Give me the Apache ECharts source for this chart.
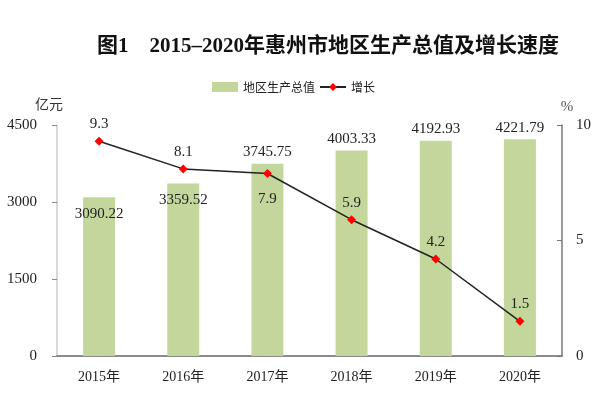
<!DOCTYPE html>
<html><head><meta charset="utf-8">
<script src="https://cdn.jsdelivr.net/npm/echarts@6/dist/echarts.min.js"></script>
<style>html,body{margin:0;padding:0;background:#fff}#c{width:600px;height:396px}</style>
</head><body><div id="c"></div>
<script>
var categories = ['2015年','2016年','2017年','2018年','2019年','2020年'];
var gdpValues = [3090.22, 3359.52, 3745.75, 4003.33, 4192.93, 4221.79];
var growthValues = [9.3, 8.1, 7.9, 5.9, 4.2, 1.5];
var gdpLabelPos = ['insideTop','insideTop','top','top','top','top'];
var growthLabelPos = ['top','top','bottom','top','top','top'];
var serif = 'Liberation Serif, Noto Sans CJK SC';

var chart = echarts.init(document.getElementById('c'), null, {renderer:'canvas'});
chart.setOption({
  animation:false,
  title:{text:'图1　2015–2020年惠州市地区生产总值及增长速度', left:92, top:31,
    textStyle:{fontFamily:serif, fontWeight:'bold', fontSize:21, color:'#111'}},
  legend:{top:76, left:207, itemGap:4, itemWidth:26, itemHeight:10,
    textStyle:{fontFamily:'Noto Sans CJK SC', fontSize:12, color:'#222'},
    data:[{name:'地区生产总值', icon:'rect', itemStyle:{color:'#c3d69b'}}, {name:'增长'}]},
  grid:{left:57, right:38, top:125, bottom:40},
  xAxis:{type:'category', data:categories,
    axisLine:{lineStyle:{color:'#666', width:1.5}},
    axisTick:{inside:true, length:4, lineStyle:{color:'#666'}},
    axisLabel:{fontFamily:serif, fontSize:14, color:'#222', margin:14}},
  yAxis:[
    {type:'value', min:0, max:4500, interval:1500, name:'亿元', nameGap:14,
     nameTextStyle:{fontFamily:'Noto Sans CJK SC', fontSize:14, color:'#333', align:'right', padding:[0,-6,0,0]},
     axisLine:{show:true, lineStyle:{color:'#ccc', width:1.5}},
     axisTick:{show:true, length:5, lineStyle:{color:'#888'}},
     splitLine:{show:false},
     axisLabel:{fontFamily:serif, fontSize:15, color:'#222', margin:20,
       formatter:function(v){return String(v);}}},
    {type:'value', min:0, max:10, interval:5, name:'%', nameGap:10,
     nameTextStyle:{fontFamily:serif, fontSize:15, color:'#555', align:'center', padding:[0,0,0,10]},
     axisLine:{show:true, lineStyle:{color:'#777', width:1.5}},
     axisTick:{show:true, inside:true, length:5, lineStyle:{color:'#777'}},
     splitLine:{show:false},
     axisLabel:{fontFamily:serif, fontSize:15, color:'#222', margin:14}}
  ],
  series:[
    {name:'地区生产总值', type:'bar', barWidth:32, yAxisIndex:0,
     itemStyle:{color:'#c3d69b'},
     data:gdpValues.map(function(v,i){
       var inside = gdpLabelPos[i] === 'insideTop';
       return {value:v, label:{position:gdpLabelPos[i], distance: inside ? 9 : 4}};}),
     label:{show:true, fontFamily:serif, fontSize:15, color:'#222',
       formatter:function(p){return p.value.toFixed(2);}}},
    {name:'增长', type:'line', yAxisIndex:1, symbol:'diamond', symbolSize:9,
     itemStyle:{color:'#ff0000'}, lineStyle:{color:'#222', width:1.5},
     data:growthValues.map(function(v,i){
       var below = growthLabelPos[i] === 'bottom';
       return {value:v, label:{position:growthLabelPos[i], distance: below ? 14 : 5}};}),
     label:{show:true, fontFamily:serif, fontSize:15, color:'#222',
       formatter:function(p){return p.value.toFixed(1);}}}
  ]
});
</script></body></html>
